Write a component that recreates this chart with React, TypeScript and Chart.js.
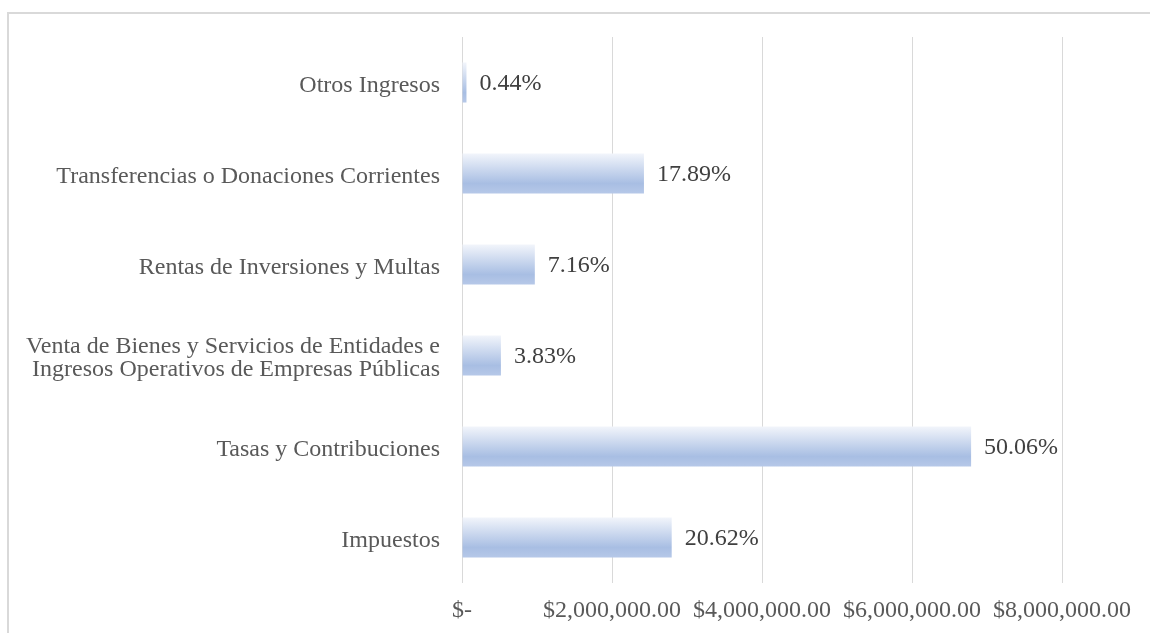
import React, { useEffect, useRef } from "react";
import { Chart, registerables } from "chart.js";

Chart.register(...registerables);

const categories: (string | string[])[] = [
  "Otros Ingresos",
  "Transferencias o Donaciones Corrientes",
  "Rentas de Inversiones y Multas",
  ["Venta de Bienes y Servicios de Entidades e", "Ingresos Operativos de Empresas Públicas"],
  "Tasas y Contribuciones",
  "Impuestos",
];
const amounts = [59700, 2426000, 971000, 519000, 6788000, 2796000];
const percentLabels = ["0.44%", "17.89%", "7.16%", "3.83%", "50.06%", "20.62%"];
const xTicks = [0, 2000000, 4000000, 6000000, 8000000];

const FONT = "'Liberation Serif', 'Times New Roman', serif";

const valueLabels = {
  id: "valueLabels",
  afterDatasetsDraw(chart: any) {
    const ctx = chart.ctx;
    const meta = chart.getDatasetMeta(0);
    ctx.save();
    ctx.font = `24px ${FONT}`;
    ctx.fillStyle = "#404040";
    ctx.textAlign = "left";
    ctx.textBaseline = "middle";
    meta.data.forEach((el: any, i: number) => {
      ctx.fillText(percentLabels[i], el.x + 13, el.y + 1);
    });
    ctx.restore();
  },
};

export default function App() {
  const ref = useRef<HTMLCanvasElement>(null);
  useEffect(() => {
    if (!ref.current) return;
    const chart = new Chart(ref.current, {
      type: "bar",
      data: {
        labels: categories,
        datasets: [
          {
            data: amounts,
            categoryPercentage: 1,
            barPercentage: 0.44,
            backgroundColor: (c: any) => {
              const y = c.chart.scales?.y;
              if (!y || c.dataIndex === undefined) return "#b4c7e7";
              const center = y.getPixelForValue(c.dataIndex);
              const step = Math.abs(y.getPixelForValue(1) - y.getPixelForValue(0));
              const half = (step * 0.44) / 2;
              if (!isFinite(center) || !isFinite(half) || half <= 0) return "#b4c7e7";
              const g = c.chart.ctx.createLinearGradient(0, center - half, 0, center + half);
              g.addColorStop(0, "#f2f5fb");
              g.addColorStop(0.75, "#a8bee3");
              g.addColorStop(1, "#b6c8e8");
              return g;
            },
            borderWidth: 0,
          },
        ],
      },
      options: {
        indexAxis: "y",
        animation: false,
        responsive: true,
        maintainAspectRatio: false,
        layout: { padding: { top: 37, right: 88, bottom: 0, left: 0 } },
        plugins: { legend: { display: false }, tooltip: { enabled: false } },
        scales: {
          x: {
            min: 0,
            max: 8000000,
            afterBuildTicks: (s: any) => {
              s.ticks = xTicks.map((v) => ({ value: v }));
            },
            afterFit: (s: any) => {
              s.height = 50;
            },
            grid: { color: "#d9d9d9", drawTicks: false, lineWidth: 1 },
            border: { display: false },
            ticks: {
              padding: 13,
              color: "#595959",
              font: { family: FONT, size: 24 },
              maxRotation: 0,
              autoSkip: false,
              callback: (v: any) =>
                Number(v) === 0
                  ? "$-"
                  : "$" + Number(v).toLocaleString("en-US", { minimumFractionDigits: 2, maximumFractionDigits: 2 }),
            },
          },
          y: {
            afterFit: (s: any) => {
              s.width = 462;
            },
            grid: { display: false, drawTicks: false },
            border: { display: false },
            ticks: {
              padding: 22,
              labelOffset: 3,
              color: "#595959",
              font: { family: FONT, size: 24, lineHeight: 0.96 },
              autoSkip: false,
            },
          },
        },
      },
      plugins: [valueLabels],
    } as any);
    return () => chart.destroy();
  }, []);
  return (
    <div style={{ position: "fixed", left: 0, top: 0, width: 1150, height: 633, background: "#fff", overflow: "hidden" }}>
      <div
        style={{
          position: "absolute",
          left: 7,
          top: 12,
          width: 1200,
          height: 700,
          border: "2px solid #d9d9d9",
          boxSizing: "border-box",
        }}
      />
      <div style={{ position: "absolute", left: 0, top: 0, width: 1150, height: 633 }}>
        <canvas ref={ref} />
      </div>
    </div>
  );
}
